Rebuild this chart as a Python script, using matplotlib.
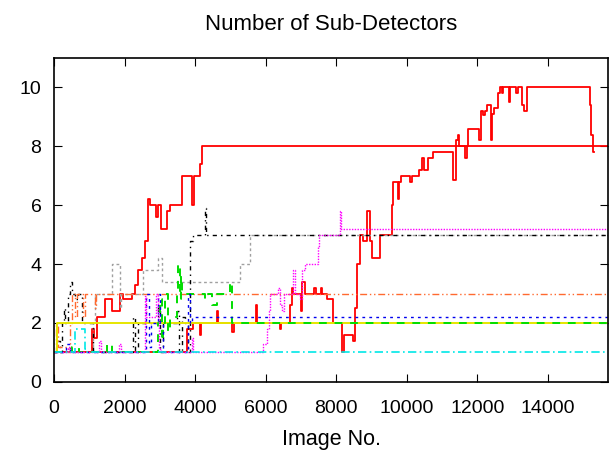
import matplotlib
matplotlib.use("Agg")
import matplotlib.pyplot as plt

plt.rcParams['font.family'] = ['Liberation Sans', 'DejaVu Sans']

# --- data (image no. vs sub-detector count) ---
red_a_x = [0, 1080, 1130, 1220, 1450, 1650, 1870, 1950, 2210, 2300, 2380, 2500, 2580, 2660, 2720, 2900,
           2950, 3030, 3200, 3280, 3630, 3900, 3960, 4140, 4190, 15700]
red_a_y = [1, 1.8, 1.5, 2.2, 2.8, 2.4, 3.0, 2.8, 3.0, 3.3, 3.8, 4.2, 4.8, 6.2, 6.0, 5.6,
           6.0, 5.2, 5.8, 6.0, 7.0, 6.0, 7.0, 7.4, 8.0, 8.0]

red_b_x = [0, 3770, 3940, 4140, 4180, 4620, 4660, 5050, 5090, 5730, 5760, 6410, 6440, 6690, 6740, 6780,
           7000, 7040, 7100, 7380, 7420, 7560, 7600, 7740, 7910, 8170, 8230, 8480, 8540, 8600, 8680,
           8770, 8880, 8960, 9020, 9250, 9590, 9620, 9760, 9790, 9820, 10100, 10140, 10330, 10440,
           10480, 10610, 10750, 11320, 11380, 11440, 11490, 11660, 11700, 11740, 12030, 12090, 12150,
           12200, 12260, 12370, 12400, 12480, 12570, 12630, 12680, 12720, 12880, 12920, 13100, 13140,
           13250, 13330, 13390, 15180, 15220, 15260, 15300]
red_b_y = [1, 1.8, 2.0, 1.6, 2.0, 2.4, 2.0, 1.7, 2.0, 2.6, 2.0, 1.8, 2.0, 2.6, 3.2, 3.0,
           2.4, 3.4, 3.0, 3.2, 3.0, 3.2, 3.0, 2.8, 2.0, 1.0, 1.6, 1.4, 2.5, 4.0, 5.0,
           4.8, 5.8, 4.8, 4.2, 5.0, 6.0, 6.8, 6.2, 6.8, 7.0, 6.8, 7.0, 7.2, 7.6,
           7.2, 7.6, 7.8, 6.85, 8.2, 8.4, 8.0, 7.6, 8.0, 8.6, 8.2, 9.2, 9.05,
           9.2, 9.4, 8.2, 9.1, 9.3, 9.8, 10.0, 9.8, 10.0, 9.5, 10.0, 9.8, 10.0,
           9.4, 9.2, 10.0, 9.4, 8.4, 7.8, 7.8]

green_x = [0, 500, 700, 1500, 1650, 2950, 3000, 3050, 3100, 3150, 3220, 3290, 3490, 3520, 3560, 3600,
           3630, 4280, 4370, 4480, 4620, 4990, 5050, 15700]
green_y = [1.0, 1.2, 1.0, 1.3, 1.0, 2.0, 2.8, 1.4, 2.0, 3.0, 1.7, 2.2, 3.0, 4.0, 2.8, 3.6,
           3.0, 2.8, 3.0, 2.6, 3.0, 3.4, 2.0, 2.0]

blue_x = [0, 350, 450, 2600, 2680, 2750, 2950, 3000, 3100, 3800, 3850, 3920, 15700]
blue_y = [1.0, 1.3, 1.0, 3.0, 1.2, 2.0, 3.0, 2.0, 1.0, 3.0, 2.0, 2.2, 2.2]

magenta_x = [0, 400, 450, 1280, 1330, 1830, 1900, 2580, 2620, 2900, 2960, 2990, 3030, 3900, 3950,
             5900, 5930, 6040, 6080, 6130, 6360, 6410, 6470, 6520, 6780, 6820, 6980, 7040, 7120,
             7490, 7520, 8110, 8140, 15700]
magenta_y = [1.0, 1.2, 1.0, 1.4, 1.0, 1.3, 1.0, 2.9, 2.2, 3.0, 2.2, 1.1, 1.0, 1.5, 1.0,
             1.0, 1.3, 1.8, 2.4, 3.0, 3.2, 2.6, 2.4, 3.0, 3.8, 3.0, 2.8, 3.8, 4.0,
             4.6, 5.0, 5.8, 5.2, 5.2]

cyan_x = [0, 600, 880, 900, 15700]
cyan_y = [1.0, 1.8, 1.1, 1.0, 1.0]

orange_x = [0, 60, 120, 400, 450, 510, 600, 650, 820, 880, 1160, 1200, 15700]
orange_y = [1.0, 2.0, 1.2, 1.0, 2.0, 3.0, 2.2, 3.0, 2.2, 3.0, 2.5, 3.0, 3.0]

yellow_x = [0, 100, 15700]
yellow_y = [1.0, 2.0, 2.0]

black_x = [0, 85, 170, 230, 280, 310, 400, 450, 510, 600, 680, 800, 1100, 2250, 2300, 2380, 2950,
           3000, 3090, 3490, 3530, 3630, 3700, 3800, 3850, 3940, 4280, 4320, 15700]
black_y = [1.0, 1.4, 1.0, 2.0, 2.5, 2.0, 3.0, 3.4, 3.0, 2.8, 3.0, 2.0, 1.0, 2.2, 1.0, 2.0, 2.6,
           1.0, 2.0, 2.4, 1.0, 2.2, 2.0, 1.0, 4.8, 5.0, 5.9, 5.0, 5.0]

gray_x = [0, 1110, 1160, 1650, 1870, 1900, 2520, 2950, 3060, 5280, 5560, 15700]
gray_y = [1.0, 2.0, 3.0, 4.0, 2.5, 3.0, 3.8, 4.2, 3.4, 4.0, 5.0, 5.0]

fig = plt.figure(figsize=(6.13, 4.53), dpi=100)
ax = fig.add_axes([0.088, 0.157, 0.904, 0.715])

# red ones first so the others sit on top (like gnuplot's order)
ax.plot(red_a_x, red_a_y, drawstyle='steps-post', color='#ff0000', lw=1.3)
ax.plot(red_b_x, red_b_y, drawstyle='steps-post', color='#ff0000', lw=1.3)
ax.plot(gray_x, gray_y, drawstyle='steps-post', color='#a0a0a0', lw=1, linestyle=(0, (2, 2)))
ax.plot(black_x, black_y, drawstyle='steps-post', color='black', lw=1, linestyle=(0, (3, 3, 1, 3)))
ax.plot(orange_x, orange_y, drawstyle='steps-post', color='#ff6a30', lw=1, linestyle=(0, (5, 2, 1, 2, 1, 2)))
ax.plot(yellow_x, yellow_y, drawstyle='steps-post', color='#e6e600', lw=1.4)
ax.plot(green_x, green_y, drawstyle='steps-post', color='#00dd00', lw=1.4, linestyle=(0, (4, 4)))
ax.plot(blue_x, blue_y, drawstyle='steps-post', color='#0000ee', lw=1, linestyle=(0, (2, 3)))
ax.plot(magenta_x, magenta_y, drawstyle='steps-post', color='#ff00ff', lw=1, linestyle=(0, (1, 1)))
ax.plot(cyan_x, cyan_y, drawstyle='steps-post', color='#00e8e8', lw=1.2, linestyle=(0, (5, 2, 1, 2)))

ax.set_xlim(0, 15700)
ax.set_ylim(0, 11)
ax.set_xticks(range(0, 16000, 2000))
ax.set_yticks(range(0, 11, 2))
ax.tick_params(direction='in', top=True, right=True, length=6, labelsize=14)
ax.tick_params(axis='x', pad=13)
ax.tick_params(axis='y', pad=9)
for s in ax.spines.values():
    s.set_linewidth(1.2)

ax.set_title("Number of Sub-Detectors", fontsize=16, pad=20)
ax.set_xlabel("Image No.", fontsize=15.5, labelpad=9)

fig.savefig("out.png", dpi=100)
